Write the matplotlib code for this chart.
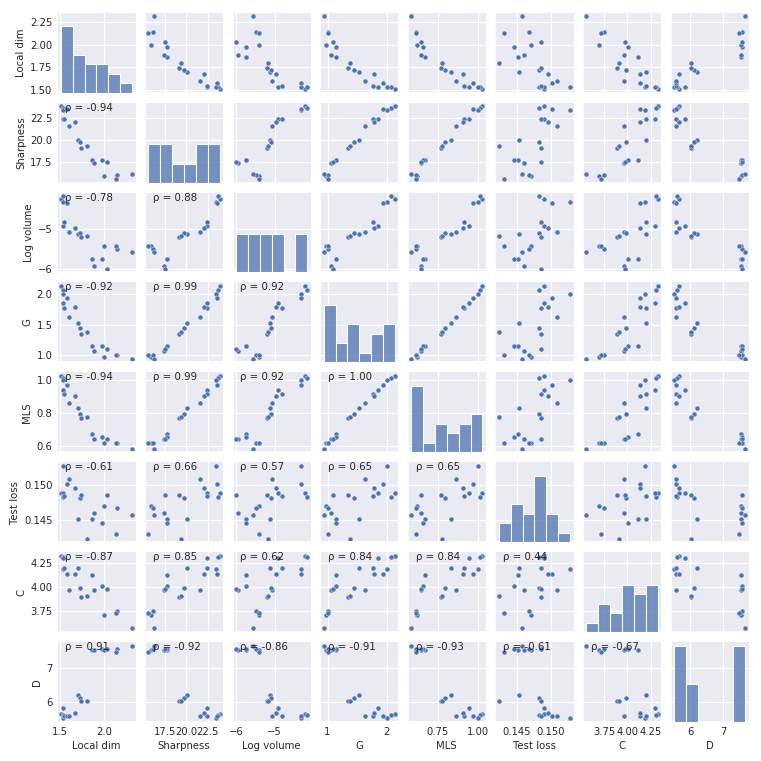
import matplotlib
matplotlib.use("Agg")
import matplotlib.pyplot as plt
import pandas as pd
import seaborn as sns

# values, one entry per run (20 runs)
local_dim = [1.511, 1.530, 1.537, 1.534, 1.549, 1.578, 1.597, 1.672, 1.698, 1.724,
             1.739, 1.799, 1.866, 1.888, 1.974, 2.000, 2.030, 2.138, 2.127, 2.310]
sharpness = [23.88, 23.70, 23.50, 22.47, 22.40, 23.60, 21.65, 22.05, 20.07, 19.78,
             19.12, 19.41, 17.78, 17.44, 17.78, 15.92, 17.52, 16.11, 15.62, 16.22]
log_volume = [-4.225, -4.16, -4.31, -4.92, -4.825, -4.33, -5.07, -4.975, -5.125, -5.10,
              -5.20, -5.17, -5.74, -5.94, -5.74, -5.42, -6.00, -5.49, -5.42, -5.575]
g_vals = [2.135, 2.076, 2.005, 1.859, 1.773, 1.941, 1.632, 1.784, 1.530, 1.438,
          1.351, 1.384, 1.146, 1.059, 1.146, 0.968, 1.097, 1.000, 1.000, 0.935]
mls = [1.026, 1.012, 1.000, 0.942, 0.914, 0.970, 0.865, 0.904, 0.831, 0.795,
       0.771, 0.779, 0.673, 0.644, 0.658, 0.622, 0.646, 0.618, 0.618, 0.586]
test_loss = [0.14897, 0.14832, 0.15276, 0.14897, 0.14855, 0.15014, 0.15089, 0.14963, 0.14528, 0.14818,
             0.14860, 0.14243, 0.14519, 0.14603, 0.14463, 0.14710, 0.14860, 0.14682, 0.14313, 0.14575]
c_vals = [4.326, 4.310, 4.190, 4.298, 4.203, 4.134, 3.969, 4.134, 4.202, 3.983,
          3.890, 3.907, 4.120, 3.966, 4.007, 3.700, 3.972, 3.750, 3.722, 3.561]
d_vals = [5.64, 5.60, 5.50, 5.82, 5.57, 5.56, 5.56, 5.65, 6.21, 6.12,
          6.01, 6.02, 7.53, 7.53, 7.58, 7.55, 7.57, 7.56, 7.48, 7.67]

names = ["Local dim", "Sharpness", "Log volume", "G", "MLS", "Test loss", "C", "D"]

# correlations printed in the lower triangle (row by row)
rho_lower = [
    [],
    [-0.94],
    [-0.78, 0.88],
    [-0.92, 0.99, 0.92],
    [-0.94, 0.99, 0.92, 1.00],
    [-0.61, 0.66, 0.57, 0.65, 0.65],
    [-0.87, 0.85, 0.62, 0.84, 0.84, 0.44],
    [0.91, -0.92, -0.86, -0.91, -0.93, -0.61, -0.67],
]

x_ticks = [[1.5, 2.0], [17.5, 20.0, 22.5], [-6, -5], [1, 2], [0.75, 1.00],
           [0.145, 0.150], [3.75, 4.00, 4.25], [6, 7]]
y_ticks = [[1.50, 1.75, 2.00, 2.25], [17.5, 20.0, 22.5], [-6, -5], [1.0, 1.5, 2.0],
           [0.6, 0.8, 1.0], [0.145, 0.150], [3.75, 4.00, 4.25], [6, 7]]

df = pd.DataFrame({
    "Local dim": local_dim, "Sharpness": sharpness, "Log volume": log_volume,
    "G": g_vals, "MLS": mls, "Test loss": test_loss, "C": c_vals, "D": d_vals,
})

sns.set_theme(style="darkgrid", rc={
    "xtick.labelsize": 7.2, "ytick.labelsize": 7.2, "axes.labelsize": 7.3,
    "xtick.major.size": 0, "ytick.major.size": 0,
    "xtick.major.pad": 3.5, "ytick.major.pad": 3.5,
    "axes.labelpad": 3.0, "grid.linewidth": 0.9,
})
plt.rcParams["font.family"] = ["DejaVu Sans"]

g = sns.pairplot(df, vars=names, diag_kind="hist", height=1.0,
                 plot_kws=dict(s=13), diag_kws=dict(bins=6))

for i in range(len(names)):
    g.axes[-1, i].set_xticks(x_ticks[i])
    g.axes[i, 0].set_yticks(y_ticks[i])
    for j, r in enumerate(rho_lower[i]):
        ax = g.axes[i, j]
        ax.annotate(f"ρ = {r:.2f}", xy=(0.1, 0.9), xycoords=ax.transAxes, fontsize=7.4)

fig = g.figure
fig.set_size_inches(7.61, 7.61)
fig.subplots_adjust(left=0.0753, right=0.984, bottom=0.0512, top=0.9833,
                    wspace=0.119, hspace=0.125)
fig.savefig("out.png", dpi=100)
